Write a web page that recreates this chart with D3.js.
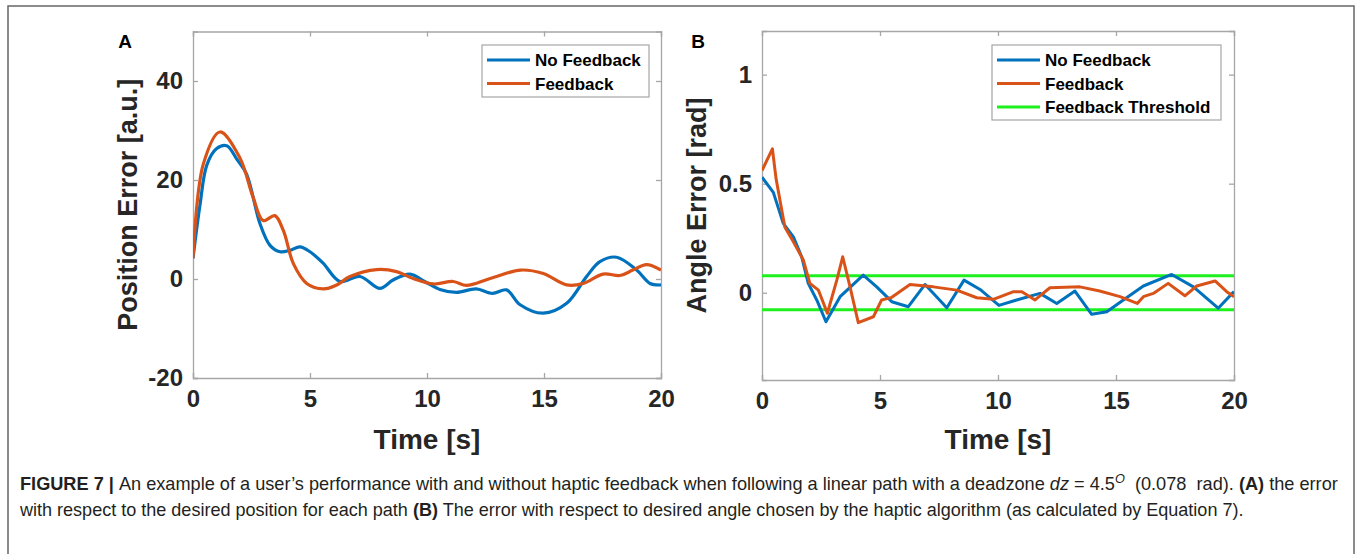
<!DOCTYPE html>
<html>
<head>
<meta charset="utf-8">
<script src="https://cdn.jsdelivr.net/npm/d3@7"></script>
<style>
  body { margin: 0; background: #fff; }
  svg { display: block; }
</style>
</head>
<body>
<svg id="fig" width="1357" height="554"></svg>
<script>
// ---- data ----
const posTimeNoFb = [0, 0.3, 0.59, 1.0, 1.44, 1.9, 2.29, 2.86, 3.29, 3.72, 4.15, 4.57, 5.0, 5.56, 6.28, 7.14, 7.99, 8.55, 9.27, 9.9, 10.55, 11.26, 12.1, 12.8, 13.4, 13.98, 14.97, 15.97, 16.82, 17.39, 18.1, 18.96, 19.53, 20];
const posErrNoFb  = [4.2, 15, 23, 26.3, 26.9, 24, 21.2, 11.2, 6.8, 5.5, 5.8, 6.5, 5.5, 3.2, -0.5, 0.5, -1.9, -0.2, 1.0, -0.5, -2.1, -2.7, -2.0, -2.9, -2.2, -5.2, -6.9, -4.9, 0.5, 3.5, 4.4, 1.8, -0.9, -1.2];
const posTimeFb = [0, 0.44, 1.15, 2.0, 2.57, 3.0, 3.5, 3.86, 4.29, 4.86, 5.57, 6.14, 6.71, 7.85, 8.7, 9.41, 10.27, 11.12, 11.69, 12.7, 14.0, 14.97, 15.97, 16.68, 17.53, 18.25, 18.8, 19.38, 20];
const posErrFb  = [4.2, 23.2, 29.7, 24.5, 16.5, 11.8, 12.8, 9.8, 3.1, -0.9, -2.0, -1.2, 0.5, 1.9, 1.5, 0.1, -1.0, -0.5, -1.3, 0.1, 1.8, 1.1, -1.2, -0.9, 1.0, 0.7, 1.8, 2.9, 1.8];

const angTimeNoFb = [0, 0.48, 0.9, 1.33, 1.68, 1.96, 2.32, 2.71, 3.31, 4.29, 4.86, 5.5, 6.2, 6.91, 7.83, 8.56, 9.24, 10.04, 10.79, 11.78, 12.49, 13.26, 13.97, 14.61, 15.31, 16.16, 17.36, 18.28, 19.33, 20];
const angErrNoFb  = [0.53, 0.46, 0.318, 0.256, 0.165, 0.043, -0.033, -0.133, -0.018, 0.081, 0.027, -0.041, -0.064, 0.038, -0.069, 0.058, 0.015, -0.058, -0.033, -0.003, -0.049, 0.008, -0.099, -0.087, -0.033, 0.031, 0.084, 0.027, -0.071, 0.005];
const angTimeFb = [0, 0.44, 0.6, 0.97, 1.33, 1.75, 2.03, 2.39, 2.77, 3.17, 3.42, 3.73, 4.08, 4.72, 5.07, 5.5, 6.27, 7.26, 8.25, 9.1, 9.8, 10.66, 11.01, 11.57, 12.2, 13.47, 14.31, 15.17, 15.9, 16.16, 16.58, 17.21, 17.92, 18.42, 19.2, 19.69, 20];
const angErrFb  = [0.56, 0.66, 0.52, 0.3, 0.234, 0.15, 0.043, 0.012, -0.094, 0.058, 0.165, 0.027, -0.137, -0.11, -0.033, -0.021, 0.038, 0.027, 0.012, -0.023, -0.03, 0.005, 0.005, -0.033, 0.023, 0.027, 0.008, -0.018, -0.049, -0.018, -0.003, 0.043, -0.014, 0.031, 0.054, 0.005, -0.018];
const threshold = 0.078;

const xTicks = [0, 5, 10, 15, 20];
const posTicks = [-20, 0, 20, 40];
const angTicks = [0, 0.5, 1];
const angTickLabels = ["0", "0.5", "1"];

const legendA = ["No Feedback", "Feedback"];
const legendB = ["No Feedback", "Feedback", "Feedback Threshold"];

const BLUE = "#0072BD", ORANGE = "#D95319", GREEN = "#1EF01E";

const svg = d3.select("#fig");

// outer frame around figure + caption
svg.append("rect")
    .attr("x", 8).attr("y", 6)
    .attr("width", 1346).attr("height", 560)
    .style("fill", "none")
    .style("stroke", "#666")
    .style("stroke-width", 1.5);

function zip(xs, ys) { return xs.map((x, i) => ({ t: x, v: ys[i] })); }

function drawPanel(opt) {
    const x = d3.scaleLinear().domain([0, 20]).range(opt.xRange);
    const y = d3.scaleLinear().domain(opt.yDomain).range(opt.yRange);
    const g = svg.append("g");
    const tickFont = "bold 24px 'Liberation Sans', Arial, sans-serif";

    // axes (MATLAB style: box, inward ticks on all sides)
    const axB = d3.axisBottom(x).tickValues(xTicks).tickSize(-5).tickPadding(12);
    const axT = d3.axisTop(x).tickValues(xTicks).tickSize(-5).tickFormat("");
    const axL = d3.axisLeft(y).tickValues(opt.yTicks).tickSize(-5).tickPadding(10)
        .tickFormat((d, i) => opt.yLabels[i]);
    const axR = d3.axisRight(y).tickValues(opt.yTicks).tickSize(-5).tickFormat("");

    const gb = g.append("g").attr("transform", `translate(0,${opt.yRange[0]})`).call(axB);
    const gt = g.append("g").attr("transform", `translate(0,${opt.yRange[1]})`).call(axT);
    const gl = g.append("g").attr("transform", `translate(${opt.xRange[0]},0)`).call(axL);
    const gr = g.append("g").attr("transform", `translate(${opt.xRange[1]},0)`).call(axR);
    [gb, gt, gl, gr].forEach(a => {
        a.select(".domain").style("stroke", "#a6a6a6").style("stroke-width", 1.3);
        a.selectAll(".tick line").style("stroke", "#a6a6a6").style("stroke-width", 1.3);
        a.selectAll("text").style("font", tickFont).style("fill", "#262626");
    });

    // lines
    const clipId = "clip" + opt.id;
    g.append("clipPath").attr("id", clipId).append("rect")
        .attr("x", opt.xRange[0]).attr("y", opt.yRange[1])
        .attr("width", opt.xRange[1] - opt.xRange[0])
        .attr("height", opt.yRange[0] - opt.yRange[1]);
    const line = d3.line().x(d => x(d.t)).y(d => y(d.v)).curve(opt.curve);
    const lines = g.append("g").attr("clip-path", `url(#${clipId})`);
    opt.series.forEach(s => {
        lines.append("path")
            .datum(s.data)
            .attr("d", line)
            .style("fill", "none")
            .style("stroke", s.color)
            .style("stroke-width", opt.lw)
            .style("stroke-linejoin", "round");
    });

    // axis titles
    g.append("text")
        .attr("x", (opt.xRange[0] + opt.xRange[1]) / 2)
        .attr("y", 449)
        .attr("text-anchor", "middle")
        .style("font", "bold 28px 'Liberation Sans', Arial, sans-serif")
        .style("fill", "#262626")
        .text("Time [s]");
    g.append("text")
        .attr("transform", `translate(${opt.yTitleX},${(opt.yRange[0] + opt.yRange[1]) / 2}) rotate(-90)`)
        .attr("text-anchor", "middle")
        .style("font", "bold 27px 'Liberation Sans', Arial, sans-serif")
        .style("fill", "#262626")
        .text(opt.yTitle);

    // panel letter
    g.append("text")
        .attr("x", opt.letterX).attr("y", 48)
        .attr("text-anchor", "middle")
        .style("font", "bold 19px 'Liberation Sans', Arial, sans-serif")
        .style("fill", "#000")
        .text(opt.letter);

    // legend
    const lg = g.append("g").attr("transform", `translate(${opt.legend.x},${opt.legend.y})`);
    lg.append("rect")
        .attr("width", opt.legend.w)
        .attr("height", opt.legend.h)
        .style("fill", "#fff")
        .style("stroke", "#a6a6a6")
        .style("stroke-width", 1.2);
    opt.legend.items.forEach((name, i) => {
        const yy = 15 + i * 23.5;
        lg.append("line")
            .attr("x1", 5).attr("x2", 48)
            .attr("y1", yy).attr("y2", yy)
            .style("stroke", opt.legend.colors[i])
            .style("stroke-width", 3);
        lg.append("text")
            .attr("x", 53).attr("y", yy + 6)
            .style("font", "bold 17px 'Liberation Sans', Arial, sans-serif")
            .style("fill", "#000")
            .text(name);
    });
}

drawPanel({
    id: "A",
    xRange: [193, 661],
    yRange: [378, 31.5],
    yDomain: [-20, 50],
    yTicks: posTicks,
    yLabels: posTicks.map(String),
    yTitle: "Position Error [a.u.]",
    yTitleX: 137,
    letter: "A",
    letterX: 125,
    curve: d3.curveCatmullRom.alpha(0.5),
    lw: 3.2,
    series: [
        { data: zip(posTimeNoFb, posErrNoFb), color: BLUE },
        { data: zip(posTimeFb, posErrFb), color: ORANGE }
    ],
    legend: { x: 482, y: 45, w: 167, h: 52, items: legendA, colors: [BLUE, ORANGE] }
});

drawPanel({
    id: "B",
    xRange: [762, 1234],
    yRange: [380, 31],
    yDomain: [-0.4, 1.2],
    yTicks: angTicks,
    yLabels: angTickLabels,
    yTitle: "Angle Error [rad]",
    yTitleX: 706,
    letter: "B",
    letterX: 698,
    curve: d3.curveLinear,
    lw: 3,
    series: [
        { data: zip([0, 20], [threshold, threshold]), color: GREEN },
        { data: zip([0, 20], [-threshold, -threshold]), color: GREEN },
        { data: zip(angTimeNoFb, angErrNoFb), color: BLUE },
        { data: zip(angTimeFb, angErrFb), color: ORANGE }
    ],
    legend: { x: 992, y: 45, w: 229, h: 75, items: legendB, colors: [BLUE, ORANGE, GREEN] }
});

// caption: font size fitted so each line spans the measured width
const cap = svg.append("g")
    .style("font-family", "'Liberation Sans Narrow', 'Arial Narrow', 'Liberation Sans', sans-serif")
    .style("fill", "#231f20");

function fitLine(textSel, width, baseSize) {
    textSel.style("font-size", baseSize + "px");
    const w = textSel.node().getComputedTextLength();
    textSel.style("font-size", (baseSize * width / w).toFixed(2) + "px");
}

const l1 = cap.append("text").attr("x", 20).attr("y", 490);
l1.append("tspan").style("font-weight", "bold").text("FIGURE 7 | ");
l1.append("tspan").text("An example of a user\u2019s performance with and without haptic feedback when following a linear path with a deadzone ");
l1.append("tspan").style("font-style", "italic").text("dz");
l1.append("tspan").text(" = 4.5");
l1.append("tspan").style("font-style", "italic").style("font-size", "0.7em").attr("dy", -7).text("O");
l1.append("tspan").attr("dy", 7).text("\u00a0 (0.078\u00a0 rad). ");
l1.append("tspan").style("font-weight", "bold").text("(A)");
l1.append("tspan").text(" the error");
fitLine(l1, 1319, 17);

const l2 = cap.append("text").attr("x", 20).attr("y", 516);
l2.append("tspan").text("with respect to the desired position for each path ");
l2.append("tspan").style("font-weight", "bold").text("(B)");
l2.append("tspan").text(" The error with respect to desired angle chosen by the haptic algorithm (as calculated by Equation 7).");
fitLine(l2, 1225, 17);
</script>
</body>
</html>
